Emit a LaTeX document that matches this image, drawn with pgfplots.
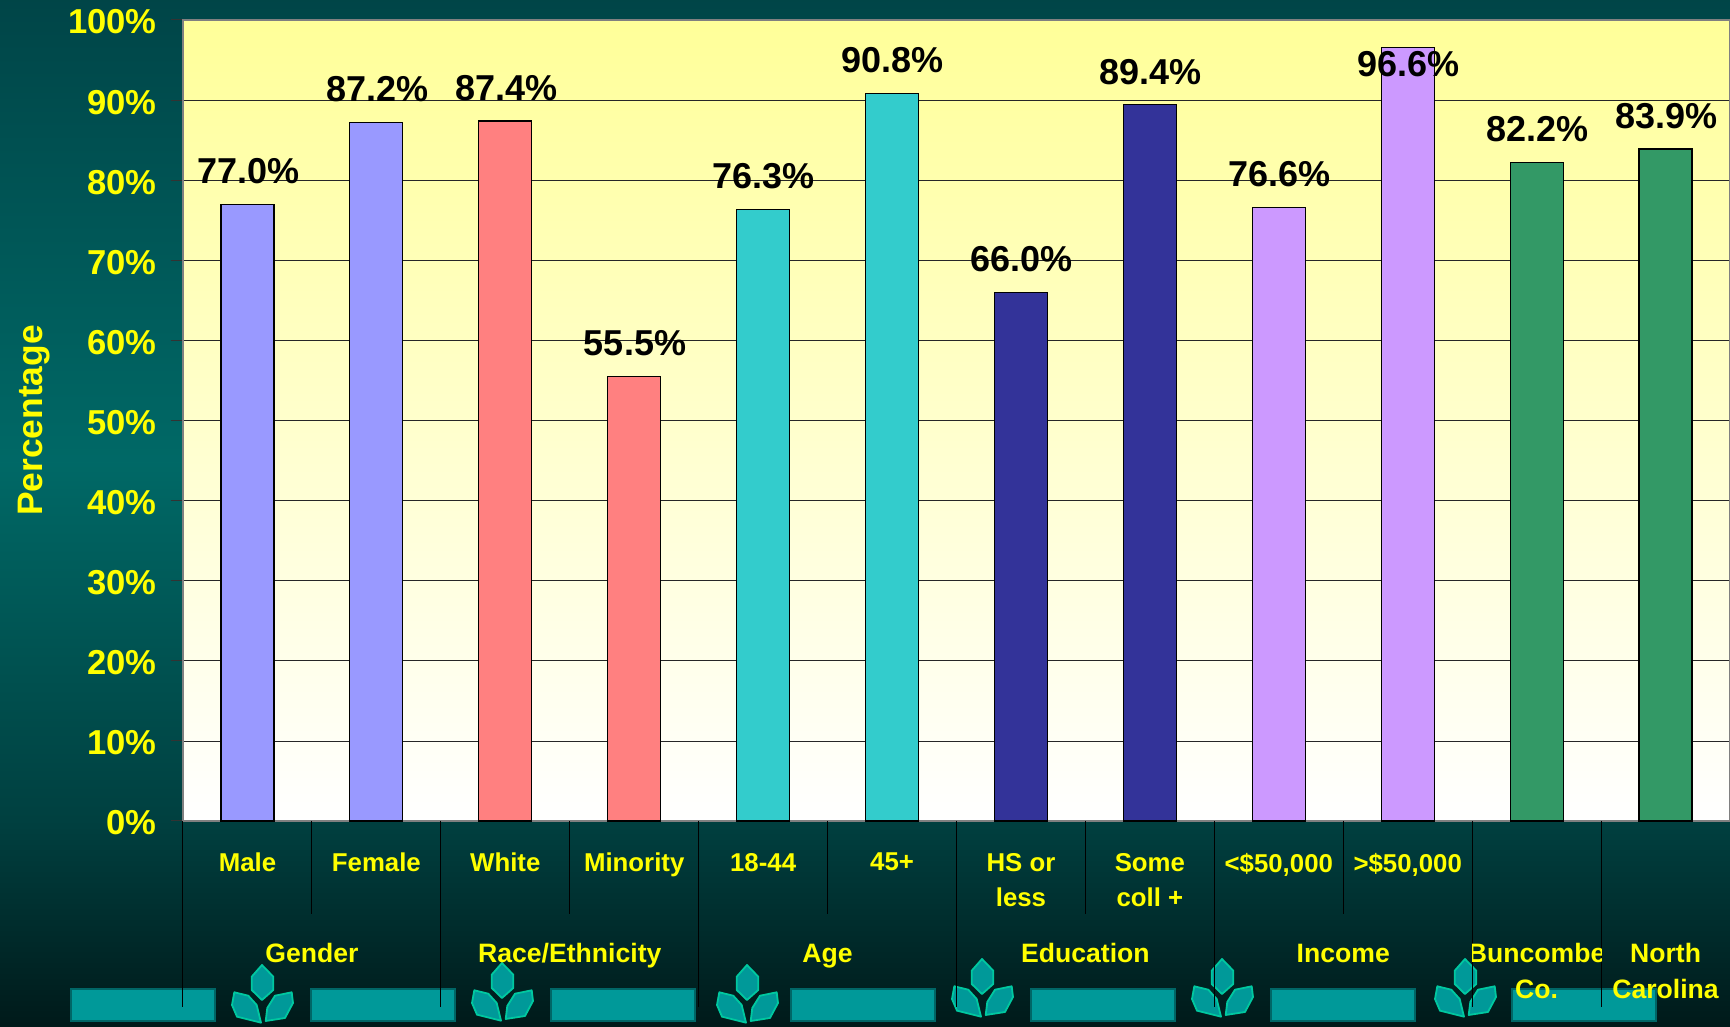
\documentclass[border=0pt]{standalone}
\usepackage{fontspec}
\setmainfont{Liberation Sans}
\usepackage{pgfplots}
\pgfplotsset{compat=1.18}
\definecolor{barblue}{HTML}{9999FF}
\definecolor{barred}{HTML}{FF8080}
\definecolor{barteal}{HTML}{33CCCC}
\definecolor{barnavy}{HTML}{333399}
\definecolor{barlilac}{HTML}{CC99FF}
\definecolor{bargreen}{HTML}{339966}
\definecolor{labyellow}{HTML}{FFFF00}
\definecolor{plottop}{HTML}{FFFF99}
\definecolor{decofill}{HTML}{009999}
\definecolor{decoedge}{HTML}{006666}
\definecolor{leafedge}{HTML}{00C8A0}
% tikz maps the box of the path onto the middle 50bp of the shading
\pgfdeclareverticalshading{slidebg}{100bp}{
  rgb(0bp)=(0,0.10,0.10);
  rgb(25bp)=(0,0.10,0.10);
  rgb(35bp)=(0,0.25,0.25);
  rgb(52.5bp)=(0,0.41,0.40);
  rgb(75bp)=(0,0.27,0.28);
  rgb(100bp)=(0,0.27,0.28)}
% 1px = 0.5pt, origin at the axis' lower left corner (183,821)
\newcommand{\deco}[2]{\fill[decofill,draw=decoedge,line width=1pt] (#1*0.5pt-91.5pt,410.5pt-#2*0.5pt) rectangle ++(72pt,-16pt);}
\newcommand{\leaves}[2]{%
  \begin{scope}[shift={(#1*0.5pt-91.5pt,410.5pt-#2*0.5pt)},x=0.5pt,y=-0.5pt,fill=decofill,draw=leafedge,line width=0.9pt,line join=round]
    \filldraw (-10.3,11.7) -- (0,0) -- (11.3,11.7) -- (11.3,25) -- (0,35) -- (-10.3,25) -- cycle;
    \filldraw (-27.7,27.3) -- (-13.7,30.7) -- (-5.3,40) -- (-1,57.7) -- (-25,51.7) -- (-30,40) -- cycle;
    \filldraw (29.7,27.3) -- (31,38) -- (23,53) -- (3.7,56) -- (5.3,43) -- (13,30.7) -- cycle;
  \end{scope}}
\tikzset{grouplab/.style={text=labyellow,anchor=base,font=\fontsize{13.3}{18}\selectfont\bfseries}}
\begin{document}
\begin{tikzpicture}
\useasboundingbox (-91.5pt,-103pt) rectangle (773.5pt,410.5pt);
\shade[shading=slidebg] (-91.5pt,-103pt) rectangle (773.5pt,410.5pt);
\deco{71}{989}\deco{311}{989}\deco{551}{989}\deco{791}{989}\deco{1031}{989}\deco{1271}{989}\deco{1512}{989}
\leaves{262}{965}\leaves{502}{963}\leaves{747}{965}\leaves{982}{959}\leaves{1222}{959}\leaves{1465}{959}
\begin{axis}[
    at={(0,0)}, anchor=south west,
    scale only axis, width=773.5pt, height=400.5pt,
    xmin=-0.5, xmax=11.5, ymin=0, ymax=100,
    clip=false,
    axis background/.style={top color=plottop, bottom color=white},
    axis line style={draw=black!50, line width=0.6pt},
    ytick={0,10,...,100},
    tick align=outside, ytick pos=left,
    major tick length=6pt,
    ytick style={draw=black!80, line width=0.5pt},
    xtick={0,...,11},
    xtick style={draw=none},
    xticklabels={{Male\\~},{Female\\~},{White\\~},{Minority\\~},{18-44\\~},{45+\\~},{HS or\\less},{Some\\coll +},{<\$50,000\\~},{>\$50,000\\~},{},{}},
    xticklabel style={align=center, text=labyellow, anchor=north, inner sep=0pt, yshift=-9.8pt,
      execute at begin node=\strut, font=\fontsize{12.9}{17.5}\selectfont\bfseries},
    yticklabel={\pgfmathprintnumber{\tick}\%},
    yticklabel style={text=labyellow, font=\fontsize{17.3}{20}\selectfont\bfseries, anchor=east,
      inner xsep=7pt, yshift=-1pt, /pgf/number format/assume math mode=true},
    ymajorgrids, grid style={draw=black!85, line width=0.35pt},
    ylabel={Percentage},
    every axis y label/.style={at={(axis description cs:0,0.5)}, rotate=90, anchor=center, yshift=74.5pt,
      text=labyellow, font=\fontsize{17.7}{20}\selectfont\bfseries},
    ybar, bar width=26.5pt, bar shift=0pt,
    nodes near coords={\pgfmathprintnumber[fixed,fixed zerofill,precision=1,assume math mode=true]{\pgfplotspointmeta}\%},
    every node near coord/.append style={anchor=center, yshift=16.6pt, xshift=0.4pt, text=black, inner sep=0pt,
      font=\fontsize{18}{20}\selectfont\bfseries},
]
\addplot[draw=black, line width=0.6pt, fill=barblue] coordinates {(0,77.0) (1,87.2)};
\addplot[draw=black, line width=0.6pt, fill=barred] coordinates {(2,87.4) (3,55.5)};
\addplot[draw=black, line width=0.6pt, fill=barteal] coordinates {(4,76.3) (5,90.8)};
\addplot[draw=black, line width=0.6pt, fill=barnavy] coordinates {(6,66.0) (7,89.4)};
\addplot[draw=black, line width=0.6pt, fill=barlilac] coordinates {(8,76.6)};
\addplot[draw=black, line width=0.6pt, fill=barlilac, every node near coord/.append style={yshift=-25.1pt}] coordinates {(9,96.6)};
\addplot[draw=black, line width=0.6pt, fill=bargreen] coordinates {(10,82.2) (11,83.9)};
% separators under the axis
\draw[black,line width=0.5pt] (axis cs:0.5,0) -- ++(0pt,-46.5pt);
\draw[black,line width=0.5pt] (axis cs:2.5,0) -- ++(0pt,-46.5pt);
\draw[black,line width=0.5pt] (axis cs:4.5,0) -- ++(0pt,-46.5pt);
\draw[black,line width=0.5pt] (axis cs:6.5,0) -- ++(0pt,-46.5pt);
\draw[black,line width=0.5pt] (axis cs:8.5,0) -- ++(0pt,-46.5pt);
\draw[black,line width=0.5pt] (axis cs:-0.5,0) -- ++(0pt,-93pt);
\draw[black,line width=0.5pt] (axis cs:1.5,0) -- ++(0pt,-93pt);
\draw[black,line width=0.5pt] (axis cs:3.5,0) -- ++(0pt,-93pt);
\draw[black,line width=0.5pt] (axis cs:5.5,0) -- ++(0pt,-93pt);
\draw[black,line width=0.5pt] (axis cs:7.5,0) -- ++(0pt,-93pt);
\draw[black,line width=0.5pt] (axis cs:9.5,0) -- ++(0pt,-93pt);
\draw[black,line width=0.5pt] (axis cs:10.5,0) -- ++(0pt,-93pt);
% group names
\node[grouplab] at (axis cs:0.5,0) [yshift=-70.5pt] {Gender};
\node[grouplab] at (axis cs:2.5,0) [yshift=-70.5pt] {Race/Ethnicity};
\node[grouplab] at (axis cs:4.5,0) [yshift=-70.5pt] {Age};
\node[grouplab] at (axis cs:6.5,0) [yshift=-70.5pt] {Education};
\node[grouplab] at (axis cs:8.5,0) [yshift=-70.5pt] {Income};
\begin{scope}
  \clip (axis cs:9.5,0) ++(0pt,-100pt) rectangle (axis cs:10.5,0);
  \node[grouplab] at (axis cs:10,0) [yshift=-70.5pt] {Buncombe};
\end{scope}
\node[grouplab] at (axis cs:10,0) [yshift=-88.5pt] {Co.};
\node[grouplab] at (axis cs:11,0) [yshift=-70.5pt] {North};
\node[grouplab] at (axis cs:11,0) [yshift=-88.5pt] {Carolina};
\end{axis}
\end{tikzpicture}
\end{document}
